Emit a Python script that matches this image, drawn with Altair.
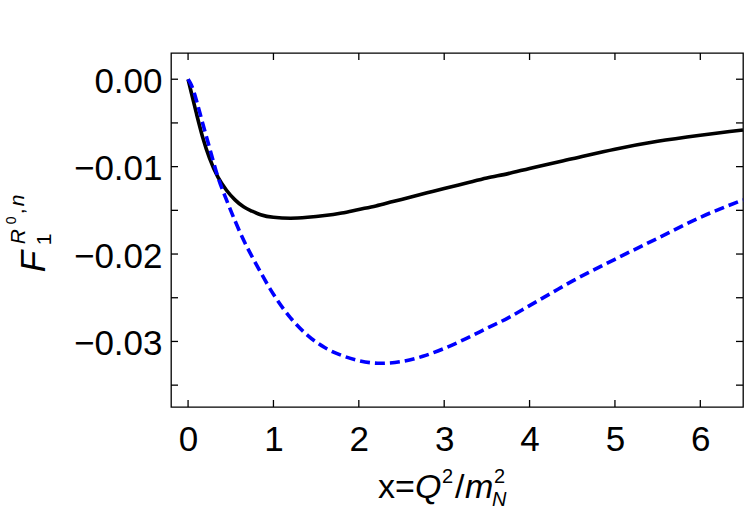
import altair as alt
import pandas as pd

# ---- data ----
black_x = [0, 0.05, 0.1, 0.17, 0.25, 0.35, 0.45, 0.55, 0.65, 0.75, 0.85, 1.0, 1.2, 1.4, 1.6,
           1.8, 2.0, 2.2, 2.4, 2.6, 2.8, 3.0, 3.25, 3.5, 3.75, 4.0, 4.5, 5.0, 5.5, 6.0, 6.5]
black_y = [0, -0.0020, -0.0040, -0.0066, -0.0090, -0.0112, -0.0127, -0.0138, -0.0146, -0.0151,
           -0.0155, -0.0158, -0.0159, -0.0158, -0.0156, -0.0153, -0.0149, -0.0145, -0.0140,
           -0.0135, -0.0130, -0.0125, -0.0119, -0.0113, -0.0108, -0.0102, -0.0091, -0.0080,
           -0.0071, -0.0064, -0.0058]

blue_x = [0, 0.03, 0.06, 0.1, 0.17, 0.25, 0.35, 0.45, 0.55, 0.65, 0.8, 1.0, 1.2, 1.4, 1.6, 1.8,
          2.0, 2.25, 2.5, 2.75, 3.0, 3.25, 3.5, 3.75, 4.0, 4.25, 4.5, 5.0, 5.5, 6.0, 6.5]
blue_y = [0, -0.0005, -0.0012, -0.0025, -0.0050, -0.0078, -0.0112, -0.0138, -0.0162, -0.0184,
          -0.0212, -0.0246, -0.0273, -0.0293, -0.0307, -0.0316, -0.0322, -0.0325, -0.0323,
          -0.0317, -0.0308, -0.0297, -0.0285, -0.0273, -0.0259, -0.0245, -0.0231, -0.0206,
          -0.0182, -0.0158, -0.0138]

x_tick_labels = [0, 1, 2, 3, 4, 5, 6]
y_tick_labels = [0.0, -0.01, -0.02, -0.03]
y_ticks_all = [0.0, -0.005, -0.01, -0.015, -0.02, -0.025, -0.03, -0.035]

W, H = 572, 354
FONT = "Liberation Sans"
TL = 7

xs = alt.Scale(domain=[-0.2, 6.5], nice=False, zero=False)
ys = alt.Scale(domain=[-0.0375, 0.003], nice=False, zero=False)

black_df = pd.DataFrame({"x": black_x, "y": black_y})
blue_df = pd.DataFrame({"x": blue_x, "y": blue_y})

xaxis = alt.Axis(values=x_tick_labels, format="d", ticks=False, tickSize=0, domain=False,
                 grid=False, labelFontSize=35, labelFont=FONT, labelColor="black",
                 labelPadding=15, title=None)
yaxis = alt.Axis(values=y_tick_labels, format=".2f", ticks=False, tickSize=0, domain=False,
                 grid=False, labelFontSize=35, labelFont=FONT, labelColor="black",
                 labelPadding=9, labelOffset=2, title=None)

black = alt.Chart(black_df).mark_line(color="black", strokeWidth=3.6, interpolate="monotone").encode(
    x=alt.X("x:Q", scale=xs, axis=xaxis),
    y=alt.Y("y:Q", scale=ys, axis=yaxis),
)
blue = alt.Chart(blue_df).mark_line(color="#0000ff", strokeWidth=3.6, strokeDash=[10, 5],
                                    interpolate="monotone").encode(
    x=alt.X("x:Q", scale=xs),
    y=alt.Y("y:Q", scale=ys),
)

xt_df = pd.DataFrame({"t": x_tick_labels})
yt_df = pd.DataFrame({"t": y_ticks_all})
tick_style = dict(color="black", strokeWidth=1.3)
t_bottom = alt.Chart(xt_df).mark_rule(**tick_style).encode(
    x=alt.X("t:Q", scale=xs), y=alt.value(H), y2=alt.value(H - TL))
t_top = alt.Chart(xt_df).mark_rule(**tick_style).encode(
    x=alt.X("t:Q", scale=xs), y=alt.value(0), y2=alt.value(TL))
t_left = alt.Chart(yt_df).mark_rule(**tick_style).encode(
    y=alt.Y("t:Q", scale=ys), x=alt.value(0), x2=alt.value(TL))
t_right = alt.Chart(yt_df).mark_rule(**tick_style).encode(
    y=alt.Y("t:Q", scale=ys), x=alt.value(W - TL), x2=alt.value(W))


def piece(text, x, y, size, italic=False, angle=0):
    kw = dict(text=text, fontSize=size, font=FONT, color="black", align="left",
              baseline="alphabetic")
    if italic:
        kw["fontStyle"] = "italic"
    if angle:
        kw["angle"] = angle
    return alt.Chart(alt.Data(values=[{}])).mark_text(**kw).encode(
        x=alt.value(x), y=alt.value(y))


OX, OY = 171, 52.7
# y title: F_1^{R^0,n}, rotated
ytitle = [
    piece("F", 45 - OX, 272 - OY, 35, True, 270),
    piece("1", 51 - OX, 245 - OY, 21, False, 270),
    piece("R", 25 - OX, 244 - OY, 21, True, 270),
    piece("0", 16 - OX, 224 - OY, 14, False, 270),
    piece(",", 24 - OX, 214 - OY, 21, False, 270),
    piece("n", 24 - OX, 206 - OY, 21, True, 270),
]
# x title: x=Q^2/m_N^2
bx = 498 - OY
xtitle = [
    piece("x=", 378 - OX, bx, 34),
    piece("Q", 415 - OX, bx, 34, True),
    piece("2", 442 - OX, bx - 15, 20),
    piece("/", 455 - OX, bx, 34),
    piece("m", 465 - OX, bx, 34, True),
    piece("2", 494 - OX, bx - 15, 20),
    piece("N", 492 - OX, bx + 8, 20, True),
]

chart = alt.layer(black, blue, t_bottom, t_top, t_left, t_right, *ytitle, *xtitle).properties(
    width=W, height=H,
    background="white",
    autosize=alt.AutoSizeParams(type="none"),
    padding={"left": 171, "top": 53, "right": 7, "bottom": 115},
).configure_view(stroke="black", strokeWidth=1.3)

chart.save("out.html", embed_options={"renderer": "svg", "actions": False})
